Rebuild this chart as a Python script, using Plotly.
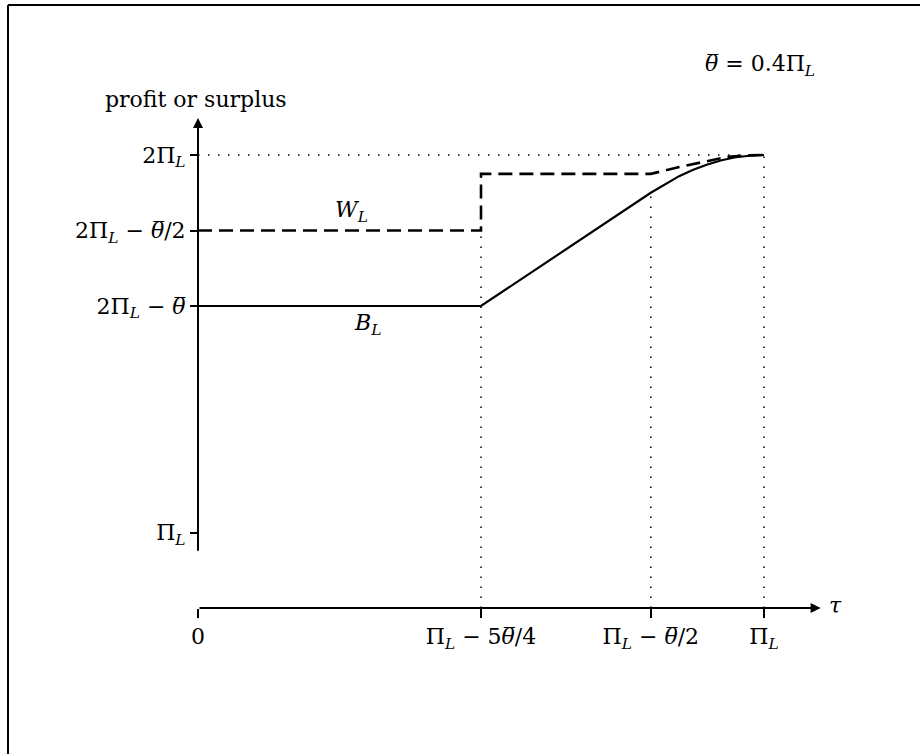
import plotly.graph_objects as go

TH = "<i>θ\u0305</i>"   # theta-bar

# ---- data (units of Pi_L; theta_bar = 0.4) ----
tau_B = [0.0, 0.5, 0.8, 0.825, 0.85, 0.875, 0.9, 0.925, 0.95, 0.975, 1.0]
B_L = [1.6, 1.6, 1.9, 1.923, 1.944, 1.961, 1.975, 1.986, 1.994, 1.998, 2.0]

tau_W = [0.0, 0.5, 0.5, 0.8, 0.85, 0.875, 0.9, 0.935, 0.97, 1.0]
W_L = [1.8, 1.8, 1.95, 1.95, 1.968, 1.976, 1.984, 1.995, 1.999, 2.0]

x_tickvals = [0.0, 0.5, 0.8, 1.0]
x_ticktext = ["0", f"Π<sub><i>L</i></sub> − 5{TH}/4", f"Π<sub><i>L</i></sub> − {TH}/2", "Π<sub><i>L</i></sub>"]
y_tickvals = [1.0, 1.6, 1.8, 2.0]
y_ticktext = ["Π<sub><i>L</i></sub>", f"2Π<sub><i>L</i></sub> − {TH}", f"2Π<sub><i>L</i></sub> − {TH}/2", "2Π<sub><i>L</i></sub>"]

axis_y = 0.8
x_axis_end = 1.1
y_axis_bottom = 0.948
y_axis_top = 2.098

guide_x = [0.5, 0.8, 1.0]
guide_top = [1.95, 1.9, 2.0]

FONT = "DejaVu Serif"
FS = 22

fig = go.Figure()

dot = dict(color="black", width=1.5, dash="1.5px,8.5px")
for gx, gt in zip(guide_x, guide_top):
    fig.add_trace(go.Scatter(x=[gx, gx], y=[axis_y, gt], mode="lines", line=dot,
                             hoverinfo="skip", showlegend=False))
fig.add_trace(go.Scatter(x=[0, 1.0], y=[2.0, 2.0], mode="lines", line=dot,
                         hoverinfo="skip", showlegend=False))

fig.add_trace(go.Scatter(x=tau_B, y=B_L, mode="lines",
                         line=dict(color="black", width=2.2), showlegend=False))
fig.add_trace(go.Scatter(x=tau_W, y=W_L, mode="lines",
                         line=dict(color="black", width=2.6, dash="14px,7px"), showlegend=False))

fig.add_annotation(x=0, y=y_axis_top, ax=0, ay=y_axis_bottom, xref="x", yref="y",
                   axref="x", ayref="y", showarrow=True, arrowhead=2, arrowsize=1,
                   arrowwidth=2, arrowcolor="black", text="", standoff=0)
fig.add_annotation(x=x_axis_end, y=axis_y, ax=0, ay=axis_y, xref="x", yref="y",
                   axref="x", ayref="y", showarrow=True, arrowhead=2, arrowsize=1,
                   arrowwidth=2, arrowcolor="black", text="", standoff=0)

tf = dict(family=FONT, size=FS, color="black")
fig.add_annotation(x=0.993, y=2.238, text=f"{TH} = 0.4Π<sub><i>L</i></sub>", showarrow=False, font=tf)
fig.add_annotation(x=-0.0035, y=2.146, text="profit or surplus", showarrow=False, font=tf)
fig.add_annotation(x=0.272, y=1.85, text="<i>W</i><sub><i>L</i></sub>", showarrow=False, font=tf)
fig.add_annotation(x=0.2986, y=1.55, text="<i>B</i><sub><i>L</i></sub>", showarrow=False, font=tf)
fig.add_annotation(x=1.127, y=0.806, text="<i>τ</i>", showarrow=False, font=tf)

W, H = 920, 754
fig.add_shape(type="line", xref="paper", yref="paper", x0=8 / W, x1=1.0, y0=1 - 5 / H, y1=1 - 5 / H,
              line=dict(color="black", width=2))
fig.add_shape(type="line", xref="paper", yref="paper", x0=8 / W, x1=8 / W, y0=0.0, y1=1 - 5 / H,
              line=dict(color="black", width=2))

fig.update_layout(
    width=W, height=H, margin=dict(l=0, r=0, t=0, b=0),
    paper_bgcolor="white", plot_bgcolor="white", showlegend=False,
    font=tf,
    xaxis=dict(range=[-198 / 566, (W - 198) / 566], domain=[0, 1], anchor="free",
               position=(H - 608) / H, showgrid=False, zeroline=False, showline=False,
               tickmode="array", tickvals=x_tickvals, ticktext=x_ticktext,
               ticks="outside", ticklen=9, tickwidth=2, tickcolor="black",
               tickfont=tf, automargin=False),
    yaxis=dict(range=[2 - (H - 155) / 377.5, 2 + 155 / 377.5], domain=[0, 1], anchor="free",
               position=198 / W, showgrid=False, zeroline=False, showline=False,
               tickmode="array", tickvals=y_tickvals, ticktext=y_ticktext,
               ticks="outside", ticklen=8, tickwidth=2, tickcolor="black",
               tickfont=tf, automargin=False),
)

fig.write_html("out.html", config={"displayModeBar": False},
               post_script="document.body.style.margin='0';document.body.style.overflow='hidden';")
